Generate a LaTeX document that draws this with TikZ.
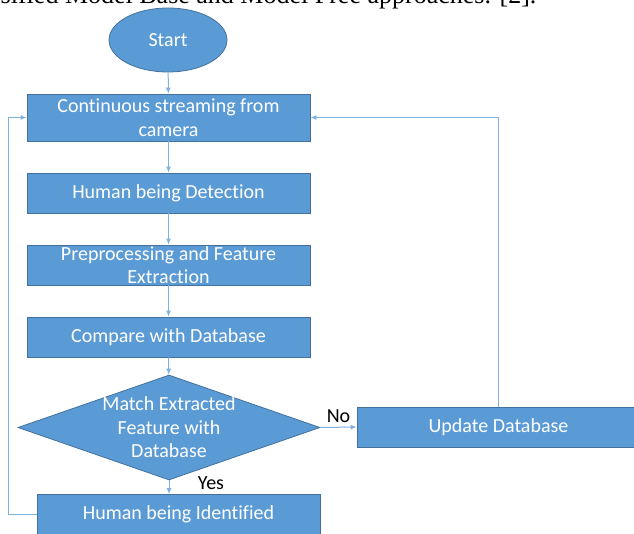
\documentclass[tikz,border=0pt]{standalone}
\usepackage{fontspec}
\setmainfont{Carlito}[Ligatures=NoCommon]
\newfontfamily\bodyserif{Liberation Serif}
\usetikzlibrary{shapes.geometric}
\usetikzlibrary{arrows.meta}
\definecolor{boxblue}{HTML}{5B9BD5}
\definecolor{boxedge}{HTML}{41719C}
\definecolor{linkblue}{HTML}{7EB1E1}

\begin{document}
\begin{tikzpicture}[x=1pt,y=-1pt,
	font=\fontsize{20}{23.5}\selectfont,
	stepbox/.style={rectangle,draw=boxedge,line width=0.8pt,fill=boxblue,text=white,align=center,
		minimum width=283pt,minimum height=40pt,inner sep=0pt},
	link/.style={draw=linkblue,line width=1pt,-{Latex[length=6pt,width=5pt]}},
	tag/.style={text=black,inner sep=1pt}]
	\useasboundingbox (0,0) rectangle (634,534);
	\clip (0,0) rectangle (634,534);
	\node[anchor=base east,font=\bodyserif\fontsize{26}{30}\selectfont] (caption) at (540,4)
		{sified Model Base and Model Free approaches. [2].};
	\node[ellipse,draw=boxedge,line width=0.8pt,fill=boxblue,text=white,
		minimum width=118pt,minimum height=64pt] (start) at (168,40) {Start};
	\node[stepbox,minimum height=47pt] (stream) at (168.5,117.5) {Continuous streaming from\\camera};
	\node[stepbox] (detect) at (168.5,193) {Human being Detection};
	\node[stepbox] (prep) at (168.5,265) {Preprocessing and Feature\\Extraction};
	\node[stepbox] (comp) at (168.5,337) {Compare with Database};
	\node[diamond,draw=boxedge,line width=0.8pt,fill=boxblue,minimum width=302pt,minimum height=105pt,
		inner sep=0pt,label={[text=white,align=center]center:Match Extracted\\Feature with\\Database}]
		(match) at (169,427.5) {};
	\node[stepbox] (update) at (498.5,427) {Update Database};
	\node[stepbox] (ident) at (178.5,514.5) {Human being Identified};
	\coordinate (loopl) at (8,514.5);
	\draw[link] (start) -- (stream);
	\draw[link] (stream) -- (detect);
	\draw[link] (detect) -- (prep);
	\draw[link] (prep) -- (comp);
	\draw[link] (comp) -- (match);
	\draw[link] (match.east) -- node[tag,above=3pt] (no) {No} (update.west);
	\draw[link] (match.south) -- (match.south |- ident.north);
	\node[tag] (yes) at (211,483) {Yes};
	\draw[link] (ident.west) -- (loopl) |- (stream.west);
	\draw[link] (update.north) |- (stream.east);
\end{tikzpicture}
\end{document}
